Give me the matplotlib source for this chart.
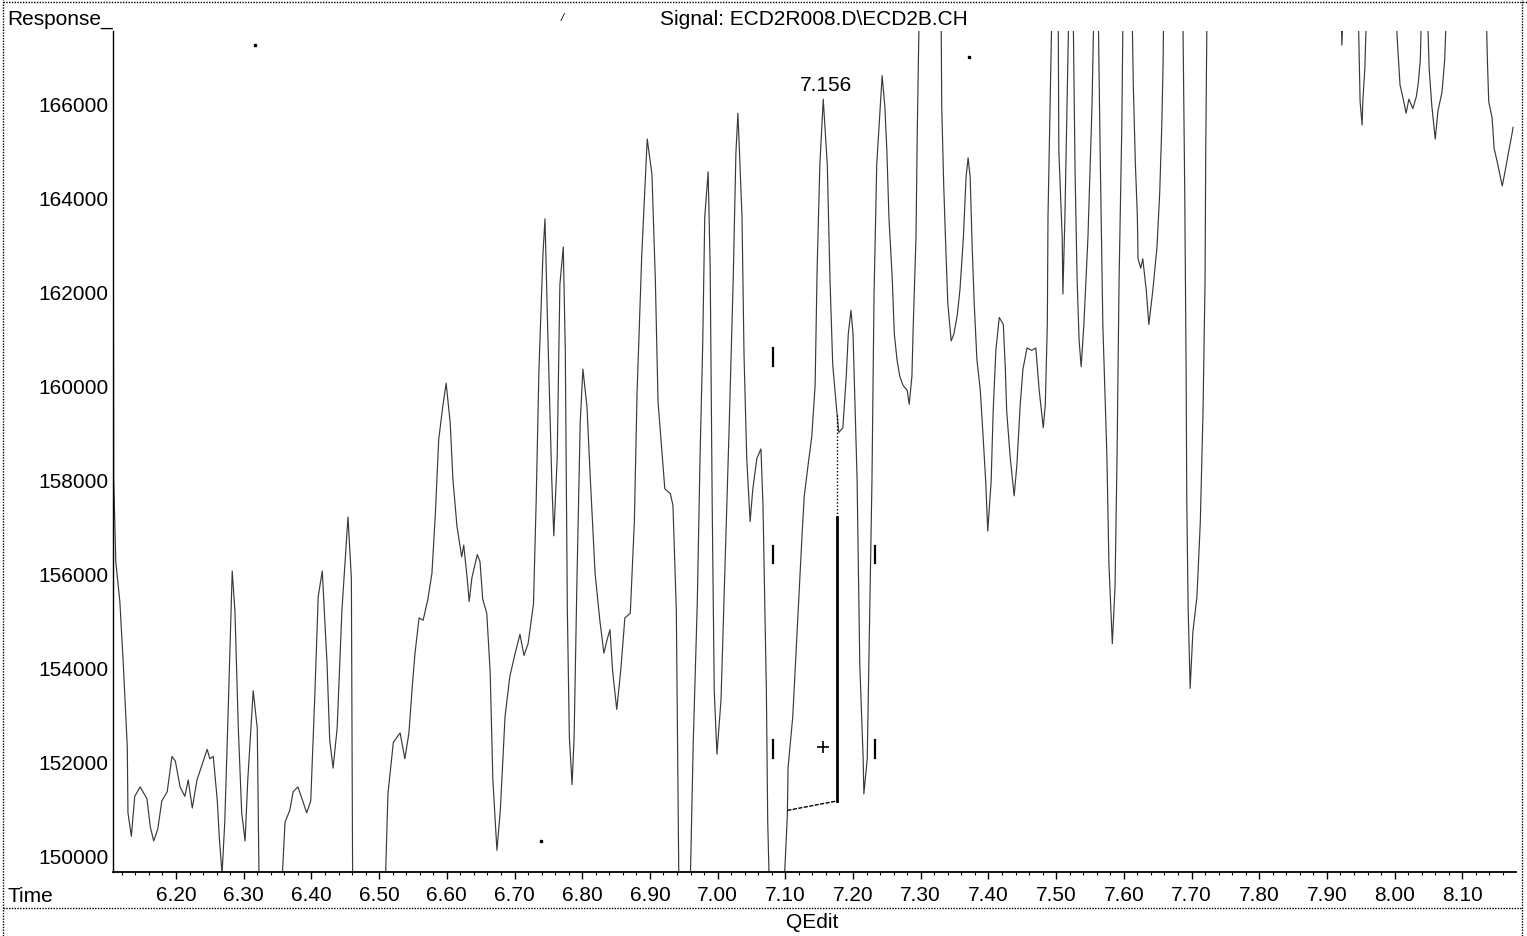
import numpy as np
import matplotlib.pyplot as plt
from matplotlib.lines import Line2D
from matplotlib.ticker import FixedLocator, FormatStrFormatter

plt.rcParams['font.family'] = ['Liberation Sans', 'DejaVu Sans']

# retention time (min) and detector response, 8 points per row
rt = [
    6.107, 6.1075, 6.108, 6.111, 6.117, 6.122, 6.128, 6.129,
    6.134, 6.139, 6.147, 6.157, 6.162, 6.167, 6.173, 6.179,
    6.187, 6.194, 6.199, 6.206, 6.213, 6.218, 6.224, 6.231,
    6.238, 6.246, 6.250, 6.255, 6.261, 6.264, 6.268, 6.272,
    6.277, 6.283, 6.287, 6.292, 6.297, 6.302, 6.306, 6.314,
    6.320, 6.323, 6.355, 6.361, 6.368, 6.373, 6.380, 6.386,
    6.393, 6.399, 6.405, 6.410, 6.416, 6.423, 6.427, 6.432,
    6.438, 6.445, 6.454, 6.459, 6.461, 6.509, 6.513, 6.521,
    6.531, 6.538, 6.544, 6.549, 6.553, 6.559, 6.565, 6.572,
    6.578, 6.583, 6.588, 6.594, 6.599, 6.605, 6.609, 6.615,
    6.622, 6.625, 6.630, 6.633, 6.637, 6.645, 6.649, 6.653,
    6.659, 6.664, 6.668, 6.674, 6.679, 6.686, 6.693, 6.701,
    6.708, 6.714, 6.720, 6.728, 6.732, 6.736, 6.742, 6.745,
    6.749, 6.755, 6.758, 6.763, 6.767, 6.772, 6.775, 6.778,
    6.781, 6.785, 6.788, 6.792, 6.797, 6.801, 6.807, 6.812,
    6.819, 6.826, 6.832, 6.837, 6.841, 6.845, 6.851, 6.857,
    6.863, 6.871, 6.877, 6.881, 6.888, 6.896, 6.903, 6.908,
    6.912, 6.919, 6.922, 6.930, 6.934, 6.939, 6.942, 6.943,
    6.959, 6.964, 6.970, 6.974, 6.978, 6.981, 6.986, 6.989,
    6.992, 6.995, 6.999, 7.005, 7.011, 7.017, 7.023, 7.027,
    7.030, 7.036, 7.039, 7.043, 7.048, 7.052, 7.058, 7.064,
    7.067, 7.072, 7.074, 7.077, 7.097, 7.103, 7.104, 7.111,
    7.119, 7.125, 7.128, 7.134, 7.139, 7.144, 7.147, 7.151,
    7.156, 7.162, 7.166, 7.170, 7.176, 7.179, 7.185, 7.190,
    7.193, 7.197, 7.200, 7.206, 7.210, 7.215, 7.216, 7.221,
    7.224, 7.228, 7.231, 7.235, 7.243, 7.247, 7.250, 7.253,
    7.258, 7.261, 7.265, 7.269, 7.274, 7.280, 7.283, 7.287,
    7.289, 7.293, 7.295, 7.298, 7.330, 7.331, 7.334, 7.337,
    7.340, 7.345, 7.349, 7.354, 7.358, 7.363, 7.367, 7.370,
    7.373, 7.376, 7.379, 7.383, 7.388, 7.392, 7.396, 7.399,
    7.404, 7.407, 7.411, 7.416, 7.422, 7.425, 7.427, 7.432,
    7.438, 7.442, 7.447, 7.451, 7.457, 7.464, 7.470, 7.475,
    7.481, 7.484, 7.487, 7.488, 7.491, 7.494, 7.503, 7.504,
    7.509, 7.510, 7.513, 7.516, 7.519, 7.525, 7.528, 7.531,
    7.534, 7.537, 7.541, 7.547, 7.553, 7.556, 7.562, 7.565,
    7.569, 7.572, 7.575, 7.578, 7.583, 7.587, 7.590, 7.593,
    7.597, 7.599, 7.612, 7.614, 7.617, 7.620, 7.621, 7.625,
    7.628, 7.633, 7.637, 7.643, 7.649, 7.653, 7.656, 7.658,
    7.659, 7.687, 7.690, 7.692, 7.693, 7.695, 7.698, 7.702,
    7.708, 7.713, 7.717, 7.720, 7.721, 7.723, 7.921, 7.922,
    7.925, 7.946, 7.949, 7.952, 7.953, 7.956, 7.959, 8.001,
    8.004, 8.008, 8.012, 8.017, 8.021, 8.027, 8.032, 8.035,
    8.038, 8.040, 8.048, 8.051, 8.055, 8.060, 8.064, 8.070,
    8.074, 8.077, 8.135, 8.137, 8.139, 8.144, 8.147, 8.151,
    8.156, 8.159, 8.163, 8.168, 8.172, 8.175,
]
resp = [
    166200, 161850, 158000, 156250, 155400, 154100, 152300, 150900,
    150400, 151250, 151450, 151200, 150600, 150300, 150550, 151150,
    151350, 152100, 152000, 151450, 151250, 151600, 151000, 151600,
    151900, 152250, 152050, 152100, 151150, 150350, 149600, 150700,
    153050, 156050, 155200, 152700, 150900, 150300, 151600, 153500,
    152700, 149000, 149000, 150700, 150950, 151350, 151450, 151200,
    150900, 151150, 153400, 155500, 156050, 154100, 152450, 151850,
    152700, 155200, 157200, 155900, 149000, 149300, 151300, 152400,
    152600, 152050, 152600, 153600, 154300, 155050, 155000, 155450,
    156000, 157250, 158850, 159550, 160050, 159200, 158000, 157000,
    156350, 156600, 155900, 155400, 155900, 156400, 156250, 155450,
    155150, 153900, 151600, 150100, 150950, 152950, 153800, 154300,
    154700, 154250, 154500, 155350, 157550, 160300, 162800, 163550,
    161200, 158000, 156800, 158450, 162150, 162950, 160750, 155250,
    152500, 151500, 152500, 155700, 159200, 160350, 159550, 158000,
    156000, 155000, 154300, 154600, 154800, 153900, 153100, 153950,
    155050, 155150, 157100, 159850, 162800, 165250, 164500, 162250,
    159650, 158350, 157800, 157700, 157450, 155200, 150700, 149000,
    149000, 152400, 155400, 158450, 160900, 163600, 164550, 162500,
    157450, 153500, 152150, 153300, 156200, 159100, 162250, 164950,
    165800, 163600, 160650, 158450, 157100, 157800, 158450, 158650,
    157450, 153500, 150700, 149000, 149000, 150850, 151850, 152950,
    155200, 156900, 157650, 158350, 158900, 160000, 162500, 164700,
    166100, 164700, 162250, 160450, 159450, 159000, 159100, 160200,
    161100, 161600, 161100, 158000, 154050, 152050, 151300, 152050,
    154600, 158000, 161900, 164700, 166600, 165950, 165000, 163600,
    162250, 161100, 160550, 160200, 160000, 159900, 159600, 160200,
    161300, 163150, 165500, 168200, 168200, 165950, 164250, 162950,
    161750, 160950, 161100, 161500, 162050, 163150, 164450, 164850,
    164450, 162950, 161750, 160550, 159900, 158950, 157950, 156900,
    157950, 159450, 160750, 161450, 161300, 160350, 159450, 158500,
    157650, 158300, 159600, 160350, 160800, 160750, 160800, 159900,
    159100, 159600, 161300, 163600, 165950, 168200, 168200, 165000,
    163150, 161950, 163600, 165950, 168200, 168200, 164550, 162250,
    160950, 160400, 161300, 163150, 165950, 168200, 168200, 165000,
    161300, 159900, 158500, 156200, 154500, 155700, 158500, 162250,
    165500, 168200, 168200, 166400, 164750, 163600, 162700, 162500,
    162700, 162050, 161300, 162050, 162950, 164100, 165500, 166850,
    168200, 168200, 164100, 160350, 157550, 155250, 153550, 154750,
    155500, 157100, 159450, 162250, 165000, 168200, 168200, 167250,
    168200, 168200, 166050, 165550, 166050, 166750, 168200, 168200,
    167350, 166400, 166150, 165800, 166100, 165900, 166150, 166450,
    166950, 168200, 168200, 166750, 165950, 165250, 165850, 166250,
    166950, 168200, 168200, 166950, 166050, 165700, 165050, 164800,
    164450, 164250, 164550, 164950, 165250, 165500,
]

# integration of the 7.156 peak
peak_rt = 7.156
peak_resp = 166100
base_rt = [7.103, 7.176]
base_resp = [150950, 151150]
drop_top = 157200
drop_dotted_top = 159400

# event markers
event_rt = [7.082, 7.082, 7.082, 7.232, 7.232]
event_resp = [160600, 156400, 152250, 156400, 152250]
dot_rt = [6.317, 7.372, 6.739]
dot_resp = [167250, 167000, 150300]

x_major = np.round(np.arange(6.2, 8.15, 0.1), 2)
x_minor = np.round(np.arange(6.12, 8.17, 0.02), 2)
y_major = np.arange(150000, 166001, 2000)

fig = plt.figure(figsize=(15.27, 9.37), dpi=100)
ax = fig.add_axes([0.0740, 0.0683, 0.9188, 0.8975])

ax.plot(rt, resp, color='#3a3a3a', lw=0.85)

# baseline and drop line
ax.plot(base_rt, base_resp, color='black', lw=1.0, ls=(0, (3, 1)))
ax.plot([base_rt[1], base_rt[1]], [base_resp[1], drop_top], color='black', lw=2.0)
ax.plot([base_rt[1], base_rt[1]], [drop_top, drop_dotted_top], color='black', lw=1.0, ls=(0, (1, 1.5)))
ax.plot([peak_rt], [152300], marker='+', color='black', ms=8, mew=1.2)

for t, r in zip(event_rt, event_resp):
    ax.plot([t, t], [r - 190, r + 190], color='black', lw=1.6)
ax.plot(dot_rt, dot_resp, ls='none', marker='s', ms=1.5, color='black')

ax.annotate('7.156', (peak_rt, peak_resp), xytext=(2, 4), textcoords='offset points',
            ha='center', va='bottom', fontsize=15)

ax.set_xlim(6.1069, 8.1793)
ax.set_ylim(149638, 167551)

ax.xaxis.set_major_locator(FixedLocator(x_major))
ax.xaxis.set_minor_locator(FixedLocator(x_minor))
ax.xaxis.set_major_formatter(FormatStrFormatter('%.2f'))
ax.set_yticks(y_major)
ax.set_yticklabels([str(v) for v in y_major])

ax.tick_params(axis='x', which='major', direction='out', length=5, width=1, pad=4, labelsize=15)
ax.tick_params(axis='x', which='minor', direction='out', length=2.5, width=0.8)
ax.tick_params(axis='y', length=0, pad=3, labelsize=15)

for side in ['top', 'right']:
    ax.spines[side].set_visible(False)
ax.spines['left'].set_linewidth(1.0)
ax.spines['bottom'].set_linewidth(1.3)

# page frame
dot = dict(color='black', lw=1.0, ls=(0, (1, 1)), transform=fig.transFigure)
fig.add_artist(Line2D([0.002, 1.0], [0.9968, 0.9968], **dot))
fig.add_artist(Line2D([0.002, 0.002], [0.0, 1.0], **dot))
fig.add_artist(Line2D([0.9967, 0.9967], [0.0, 1.0], **dot))
fig.add_artist(Line2D([0.002, 0.9967], [0.0299, 0.0299], **dot))

fig.text(0.005, 0.979, 'Response_', ha='left', va='center', fontsize=15)
fig.text(0.533, 0.979, 'Signal: ECD2R008.D\\ECD2B.CH', ha='center', va='center', fontsize=15)
fig.text(0.368, 0.981, '/', ha='center', va='center', fontsize=8, style='italic')
fig.text(0.005, 0.0427, 'Time', ha='left', va='center', fontsize=15)
fig.text(0.532, 0.016, 'QEdit', ha='center', va='center', fontsize=15)

fig.savefig('out.png', dpi=100)
